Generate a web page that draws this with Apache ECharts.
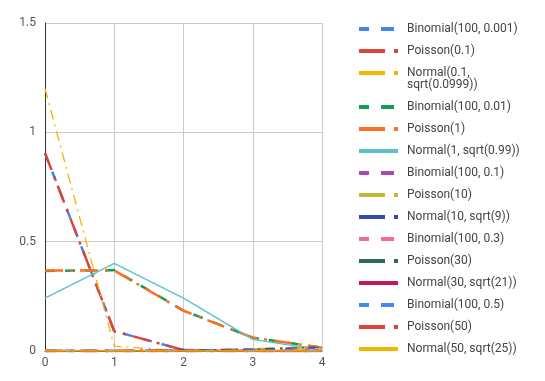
<!DOCTYPE html>
<html>
<head>
<meta charset="utf-8">
<script src="https://cdn.jsdelivr.net/npm/echarts@6/dist/echarts.min.js"></script>
<style>html,body{margin:0;padding:0;background:#fff}#c{width:545px;height:381px}</style>
</head>
<body>
<div id="c"></div>
<script>
var xValues = [0, 1, 2, 3, 4];
var yTicks = [0, 0.5, 1, 1.5];
var seriesNames = [
  'Binomial(100, 0.001)', 'Poisson(0.1)', 'Normal(0.1, sqrt(0.0999))',
  'Binomial(100, 0.01)', 'Poisson(1)', 'Normal(1, sqrt(0.99))',
  'Binomial(100, 0.1)', 'Poisson(10)', 'Normal(10, sqrt(9))',
  'Binomial(100, 0.3)', 'Poisson(30)', 'Normal(30, sqrt(21))',
  'Binomial(100, 0.5)', 'Poisson(50)', 'Normal(50, sqrt(25))'
];
var binom0001 = [0.905, 0.0906, 0.0045, 0.0002, 0.0];
var poisson01 = [0.905, 0.0905, 0.0045, 0.0002, 0.0];
var normal01 = [1.20, 0.022, 0.0, 0.0, 0.0];
var binom001 = [0.366, 0.370, 0.185, 0.061, 0.015];
var poisson1 = [0.368, 0.368, 0.184, 0.061, 0.015];
var normal1 = [0.242, 0.401, 0.242, 0.053, 0.004];
var binom01 = [0.0, 0.0003, 0.0016, 0.0059, 0.016];
var poisson10 = [0.0, 0.0005, 0.0023, 0.0076, 0.019];
var normal10 = [0.0005, 0.0015, 0.0038, 0.0087, 0.018];
var binom03 = [0, 0, 0, 0, 0];
var poisson30 = [0, 0, 0, 0, 0];
var normal30 = [0, 0, 0, 0, 0];
var binom05 = [0, 0, 0, 0, 0];
var poisson50 = [0, 0, 0, 0, 0];
var normal50 = [0, 0, 0, 0, 0];
var seriesValues = [binom0001, poisson01, normal01, binom001, poisson1, normal1,
  binom01, poisson10, normal10, binom03, poisson30, normal30, binom05, poisson50, normal50];
var colors = ['#4285F4', '#DB4437', '#F4B400', '#0F9D58', '#FF6D1F', '#5CC0C8',
  '#AB47BC', '#BDBB35', '#3949AB', '#F06A9A', '#2E6B57', '#C2185B', '#4A86F0', '#DB4437', '#F4B400'];
var kinds = ['dash', 'dashdot', 'dashdotThin', 'dash', 'dashdot', 'solidThin',
  'dash', 'dashdot', 'dashdotThin', 'dash', 'dashdot', 'solidThin', 'dash', 'dashdot', 'solidThin'];

function lineStyleFor(k, c) {
  if (k === 'dash') return { color: c, width: 2.5, type: [10, 10] };
  if (k === 'dashdot') return { color: c, width: 2.5, type: [18, 7, 3, 7] };
  if (k === 'dashdotThin') return { color: c, width: 1.3, type: [10, 5, 2, 5] };
  return { color: c, width: 1.3, type: 'solid' };
}
function iconFor(k, h, yb) {
  var b = 'M0,0M39,' + h;
  if (k === 'dash') return 'path://' + b + 'M0,' + yb + 'h10v4h-10zM22,' + yb + 'h13v4h-13z';
  if (k === 'dashdot' || k === 'dashdotThin') return 'path://' + b + 'M0,' + yb + 'h26v4h-26zM35,' + yb + 'h4v4h-4z';
  return 'path://' + b + 'M0,' + yb + 'h39v4h-39z';
}
var series = seriesNames.map(function (n, i) {
  return {
    name: n, type: 'line', symbol: 'none', silent: true,
    color: colors[i],
    lineStyle: lineStyleFor(kinds[i], colors[i]),
    data: xValues.map(function (x, j) { return [x, seriesValues[i][j]]; })
  };
});
function legendData(from, to, h, yb) {
  var arr = [];
  for (var i = from; i < to; i++) arr.push({ name: seriesNames[i], icon: iconFor(kinds[i], h, yb) });
  return arr;
}
var legendText = { fontFamily: 'Roboto', fontSize: 12, color: '#444', lineHeight: 12, padding: [0, 0, 0, 4] };
var legendBase = {
  orient: 'vertical', left: 359, padding: 0, itemWidth: 39, itemHeight: 14, itemGap: 8,
  selectedMode: false, itemStyle: { borderWidth: 0 }, textStyle: legendText
};
var chart = echarts.init(document.getElementById('c'), null, { renderer: 'canvas' });
chart.setOption({
  animation: false,
  grid: { left: 45, right: 223, top: 23, bottom: 30 },
  xAxis: {
    type: 'value', min: 0, max: 4, interval: 1,
    axisLine: { show: true, onZero: false, lineStyle: { color: '#333', width: 1 } },
    axisTick: { show: false },
    axisLabel: { color: '#555', fontFamily: 'Roboto', fontSize: 12, margin: 6 },
    splitLine: { show: true, lineStyle: { color: '#ccc', width: 1 } }
  },
  yAxis: {
    type: 'value', min: yTicks[0], max: yTicks[yTicks.length - 1], interval: 0.5,
    axisLine: { show: true, onZero: false, lineStyle: { color: '#333', width: 1 } },
    axisTick: { show: false },
    axisLabel: { color: '#555', fontFamily: 'Roboto', fontSize: 12, margin: 9 },
    splitLine: { show: true, lineStyle: { color: '#ccc', width: 1 } }
  },
  legend: [
    Object.assign({}, legendBase, { top: 22, data: legendData(0, 2, 14, 5) }),
    Object.assign({}, legendBase, { top: 67, itemHeight: 24, data: legendData(2, 3, 24, 4),
      formatter: function (n) { return n.replace(', ', ',\n'); } }),
    Object.assign({}, legendBase, { top: 100, data: legendData(3, 15, 14, 5) })
  ],
  series: series
});
</script>
</body>
</html>
